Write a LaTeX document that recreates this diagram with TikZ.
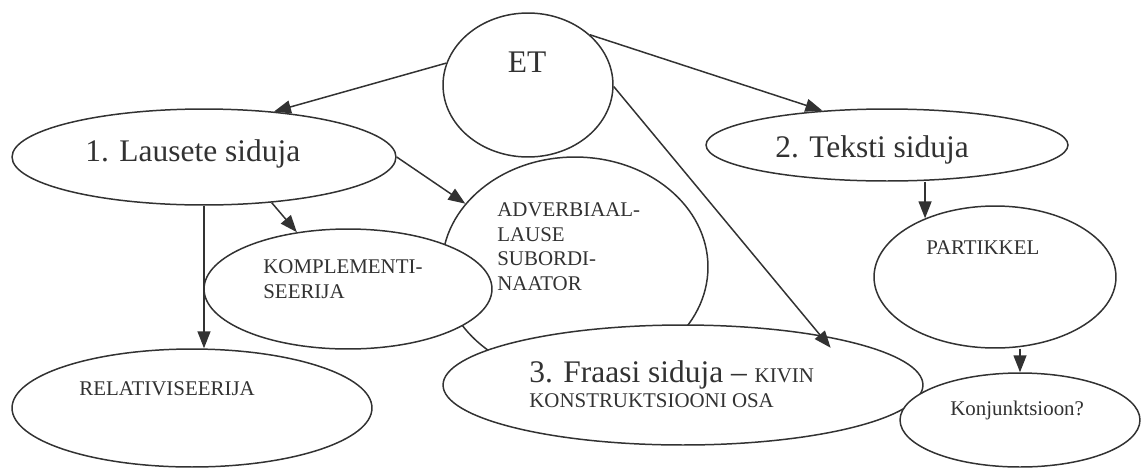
\documentclass[tikz,border=0pt]{standalone}
\usepackage{fontspec}
\setmainfont{Liberation Serif}
\usetikzlibrary{shapes.geometric,arrows.meta}
\definecolor{ink}{RGB}{50,50,50}
\tikzset{
  ell/.style={draw=ink, line width=0.85pt, fill=white, ellipse, inner sep=0pt},
  bigtxt/.style={font=\fontsize{17.9}{21}\selectfont, text=ink, inner sep=0pt, anchor=base west},
  smalltxt/.style={font=\fontsize{11.9}{14}\selectfont, text=ink, inner sep=0pt, anchor=base west},
  arr/.style={draw=ink, line width=0.85pt, -{Triangle[length=0.34cm,width=0.26cm]}},
}
\begin{document}
\begin{tikzpicture}[x=0.02cm,y=-0.02cm]
\useasboundingbox (0,0) rectangle (1145,467);
% ellipses (drawing order gives the overlaps)
\node[ell, minimum width=5.32cm, minimum height=4.4cm] (adv) at (575,267) {};
\node[ell, minimum width=3.4cm, minimum height=2.88cm] (et) at (528,85) {};
\node[ell, minimum width=7.68cm, minimum height=1.92cm] (laus) at (204,157) {};
\node[ell, minimum width=7.24cm, minimum height=1.44cm] (tek) at (887,145) {};
\node[ell, minimum width=5.76cm, minimum height=2.4cm] (komp) at (348,289) {};
\node[ell, minimum width=7.2cm, minimum height=2.36cm] (rel) at (192,408) {};
\node[ell, minimum width=9.6cm, minimum height=2.4cm] (fra) at (683,385) {};
\node[ell, minimum width=4.84cm, minimum height=2.84cm] (par) at (995,277) {};
\node[ell, minimum width=4.8cm, minimum height=1.88cm] (kon) at (1020,420) {};
% texts
\node[bigtxt, anchor=base] (tet) at (527,72) {ET};
\node[bigtxt] (tlaus) at (85,161) {1. Lausete siduja};
\node[bigtxt] (ttek) at (775,157) {2. Teksti siduja};
\node[bigtxt] (tfra) at (529,382) {3. Fraasi siduja – {\fontsize{11.9}{14}\selectfont KIVIN}};
\node[smalltxt] (tfrb) at (529,407) {KONSTRUKTSIOONI OSA};
\node[smalltxt] (tadva) at (497,216) {ADVERBIAAL-};
\node[smalltxt] (tadvb) at (497,241) {LAUSE};
\node[smalltxt] (tadvc) at (497,265) {SUBORDI-};
\node[smalltxt] (tadvd) at (497,290) {NAATOR};
\node[smalltxt] (tkompa) at (263,273) {KOMPLEMENTI-};
\node[smalltxt] (tkompb) at (263,298) {SEERIJA};
\node[smalltxt] (trel) at (79,395) {RELATIVISEERIJA};
\node[smalltxt] (tpar) at (926,254) {PARTIKKEL};
\node[smalltxt] (tkon) at (950,415) {Konjunktsioon?};
% connectors
\draw[arr] (et.165) -- (laus.33);
\draw[arr] (et.39) -- (tek.152);
\draw[arr, shorten >=-0.33cm] (et.-1) -- (fra.20);
\draw[arr] (laus.east) -- (adv.150);
\draw[arr] (laus.-34) -- (komp.132);
\draw[arr] (laus.south) -- (laus.south |- rel.north);
\draw[arr] (par.140 |- tek.south) -- (par.140);
\draw[arr] (kon.north |- par.south) -- (kon.north);
\end{tikzpicture}
\end{document}
